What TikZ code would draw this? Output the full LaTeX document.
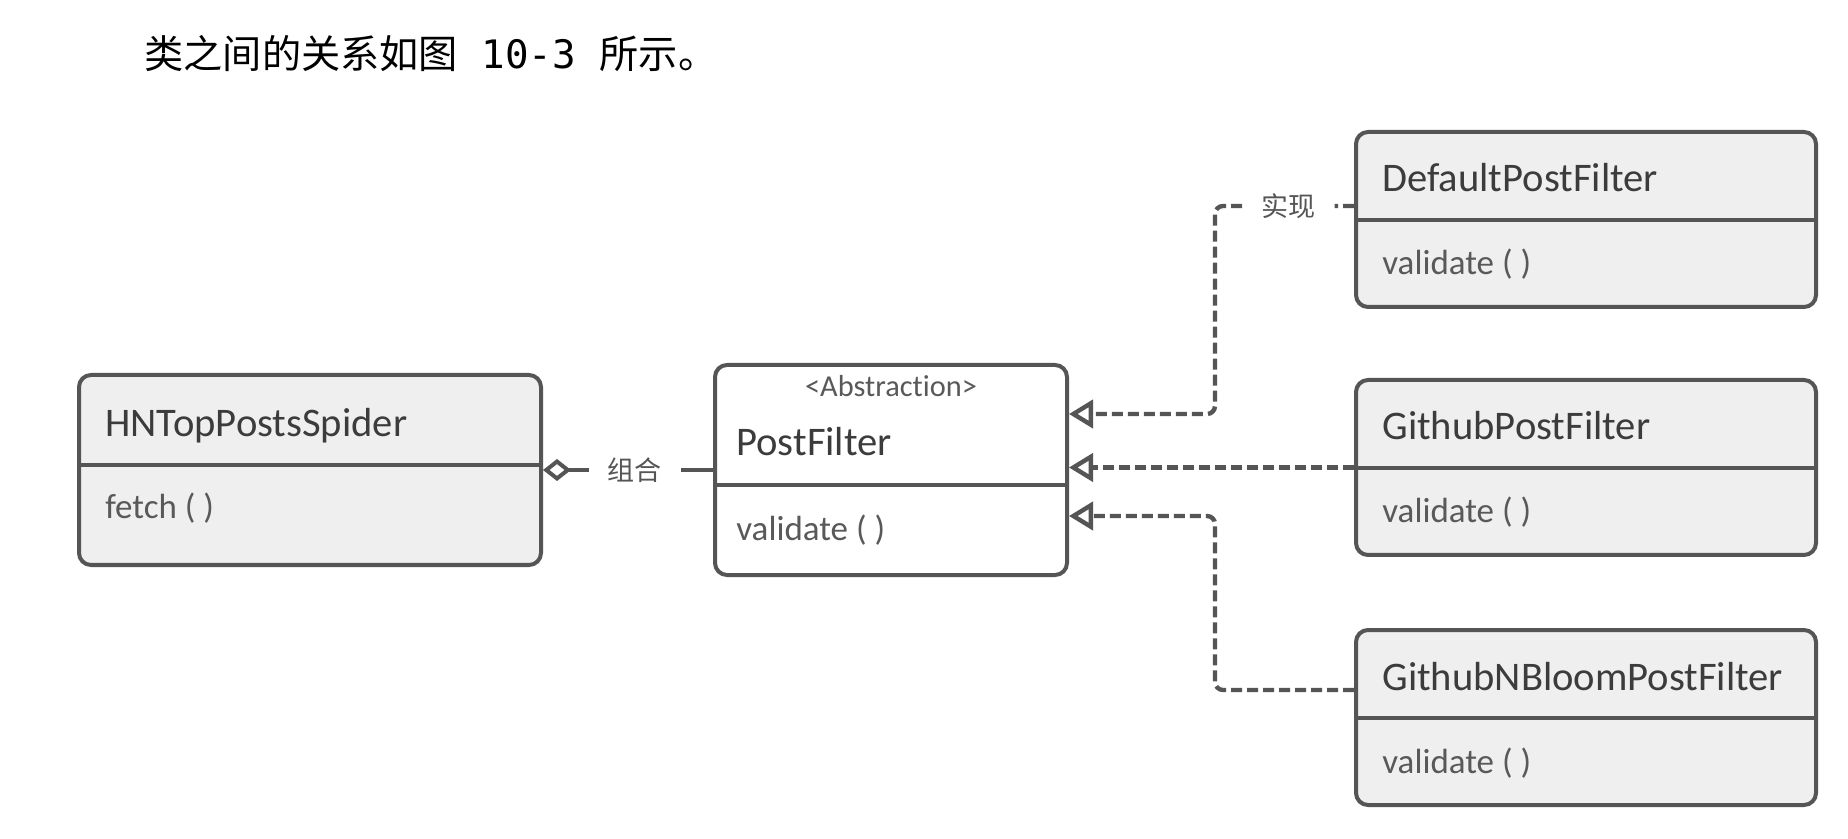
\documentclass[tikz,border=0pt]{standalone}
\usepackage{fontspec}
\setmainfont{Carlito}[Ligatures=NoCommon]
\newfontfamily\cjk{Noto Sans CJK SC}
\newfontfamily\monofnt{DejaVu Sans Mono}
\usepackage{xcolor}
\usetikzlibrary{positioning}
\usetikzlibrary{arrows.meta}

\definecolor{linegray}{HTML}{555555}
\definecolor{boxgray}{HTML}{EFEFEF}
\definecolor{textgray}{HTML}{3C3C3C}

\tikzset{
  classbox/.style={draw=linegray, line width=2pt, fill=boxgray, rounded corners=6pt,
    inner sep=0pt, anchor=north west},
  rightbox/.style={classbox, minimum width=230pt, minimum height=87.5pt},
  divider/.style={draw=linegray, line width=2pt},
  classname/.style={anchor=base west, inner sep=0pt, text=textgray,
    font=\fontsize{20.3pt}{24pt}\selectfont},
  method/.style={anchor=base west, inner sep=0pt, text=textgray!85,
    font=\fontsize{17.5pt}{21pt}\selectfont},
  stereo/.style={anchor=base, inner sep=0pt, text=textgray!85,
    font=\fontsize{15.2pt}{18pt}\selectfont},
  linklabel/.style={fill=white, text=linegray, inner xsep=9.5pt, inner ysep=2pt,
    font=\cjk\fontsize{13.5pt}{16pt}\selectfont},
  aggr/.style={draw=linegray, line width=2pt, {Diamond[open,length=14pt,width=11pt]}-},
  realize/.style={draw=linegray, line width=2.2pt, dash pattern=on 5.5pt off 2.5pt,
    rounded corners=4pt, -{Triangle[open,length=12pt,width=14pt]}},
}

\begin{document}
\begin{tikzpicture}[x=0.5pt, y=-0.5pt]

    \fill[white] (0,0) rectangle (1848,839);
    \useasboundingbox (0,0) rectangle (1848,839);

    % Define nodes
    \node[anchor=base west, inner sep=0pt, font=\fontsize{19.6pt}{23pt}\selectfont] (caption) at (144,69)
      {{\cjk 类之间的关系如图}{\monofnt\ 10-3\ }{\cjk 所示。}};

    \node[classbox, minimum width=231pt, minimum height=95pt] (spider) at (77,373) {};
    \node[classbox, fill=white, minimum width=176pt, minimum height=105pt] (postfilter) at (713,363) {};
    \node[rightbox] (default) at (1354,130) {};
    \node[rightbox] (github) at (1354,378) {};
    \node[rightbox] (bloom) at (1354,628) {};

    \draw[divider] ([yshift=-46pt]spider.north west) -- ([yshift=-46pt]spider.north east);
    \draw[divider] ([yshift=-61pt]postfilter.north west) -- ([yshift=-61pt]postfilter.north east);
    \draw[divider] ([yshift=-45pt]default.north west) -- ([yshift=-45pt]default.north east);
    \draw[divider] ([yshift=-45pt]github.north west) -- ([yshift=-45pt]github.north east);
    \draw[divider] ([yshift=-45pt]bloom.north west) -- ([yshift=-45pt]bloom.north east);

    \node[classname] (spidername) at ([shift={(28,64)}]spider.north west) {HNTopPostsSpider};
    \node[method] (fetch) at ([shift={(28,145)}]spider.north west) {fetch ( )};
    \node[stereo] (abstract) at ([shift={(0,34)}]postfilter.north) {<Abstraction>};
    \node[classname] (pfname) at ([shift={(23,93)}]postfilter.north west) {PostFilter};
    \node[method] (pfvalidate) at ([shift={(23,177)}]postfilter.north west) {validate ( )};
    \node[classname] (defname) at ([shift={(28,62)}]default.north west) {DefaultPostFilter};
    \node[method] (defvalidate) at ([shift={(28,145)}]default.north west) {validate ( )};
    \node[classname] (ghname) at ([shift={(28,62)}]github.north west) {GithubPostFilter};
    \node[method] (ghvalidate) at ([shift={(28,145)}]github.north west) {validate ( )};
    \node[classname] (bloomname) at ([shift={(28,62)}]bloom.north west) {GithubNBloomPostFilter};
    \node[method] (bloomvalidate) at ([shift={(28,145)}]bloom.north west) {validate ( )};

    % Connect the nodes
    \draw[aggr] (spider.east) -- node[linklabel, pos=0.54] {组合} (postfilter.west);
    \draw[realize] ([yshift=6.75pt]default.west) -- node[linklabel, pos=0.47] {实现} ++(-139,0)
      |- ([yshift=28pt]postfilter.east);
    \draw[realize] (github.west) -- (github.west -| postfilter.east);
    \draw[realize] ([yshift=13.75pt]bloom.west) -- ++(-139,0) |- ([yshift=-23pt]postfilter.east);

  \end{tikzpicture}
\end{document}
